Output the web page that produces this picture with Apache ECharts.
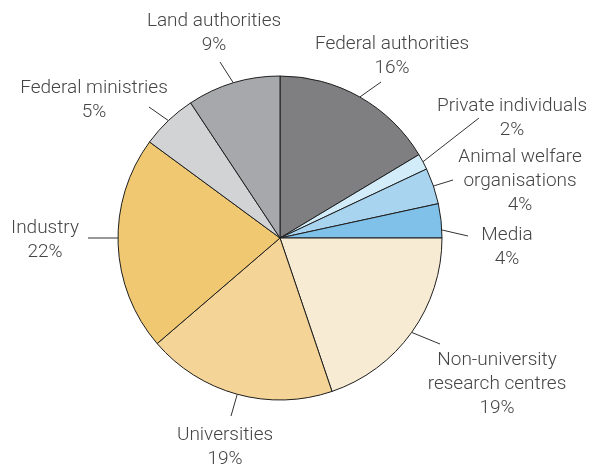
<!DOCTYPE html>
<html>
<head>
<meta charset="utf-8">
<script src="https://cdn.jsdelivr.net/npm/echarts@6/dist/echarts.min.js"></script>
<style>
  html, body { margin: 0; padding: 0; background: #ffffff; }
  #chart { width: 592px; height: 465px; }
</style>
</head>
<body>
<div id="chart"></div>
<script>
// Categories in clockwise order starting at 12 o'clock
const categories = [
  'Federal authorities',
  'Private individuals',
  'Animal welfare\norganisations',
  'Media',
  'Non-university\nresearch centres',
  'Universities',
  'Industry',
  'Federal ministries',
  'Land authorities'
];
// Slice sizes as drawn (measured from the slice angles, in %)
const sliceValues = [16.4, 1.6, 3.6, 3.4, 19.8, 18.9, 21.4, 5.6, 9.3];
// Percentages printed on the labels
const printedPercents = [16, 2, 4, 4, 19, 19, 22, 5, 9];

const colors = ['#7f7f82', '#d3ecf9', '#a9d4f0', '#80c1ea', '#f7ebd3', '#f5d597', '#f0c871', '#d2d3d5', '#a7a8ab'];

// Label placement (styling only): label block centre, label-line end point,
// and optional label-line start override
const labelPlace = [
  { cx: 392, cy: 56,  ex: 381, ey: 82 },
  { cx: 512, cy: 118, ex: 479, ey: 118 },
  { cx: 520, cy: 181, ex: 453, ey: 180 },
  { cx: 507, cy: 247, ex: 468, ey: 236, sx: 442, sy: 230 },
  { cx: 497, cy: 384, ex: 440, ey: 344 },
  { cx: 225, cy: 447, ex: 231, ey: 416 },
  { cx: 45,  cy: 240, ex: 88,  ey: 238, sx: 118, sy: 238 },
  { cx: 94,  cy: 100, ex: 149, ey: 107 },
  { cx: 214, cy: 33,  ex: 220, ey: 62 }
];

const chart = echarts.init(document.getElementById('chart'), null, { renderer: 'canvas' });

const data = categories.map((name, i) => ({
  name: name,
  value: sliceValues[i],
  itemStyle: { color: colors[i] }
}));

chart.setOption({
  animation: false,
  series: [{
    type: 'pie',
    center: [280, 238],
    radius: 162,
    startAngle: 90,
    clockwise: true,
    avoidLabelOverlap: false,
    itemStyle: { borderColor: '#1e1e1e', borderWidth: 1 },
    emphasis: { disabled: true },
    label: {
      show: true,
      position: 'outside',
      formatter: (p) => p.name + '\n' + printedPercents[p.dataIndex] + '%',
      fontFamily: 'Roboto, "Liberation Sans", Arial, sans-serif',
      fontWeight: 300,
      fontSize: 19,
      lineHeight: 24,
      color: '#454545',
      align: 'center'
    },
    labelLine: {
      show: true,
      length: 15,
      length2: 0,
      smooth: false,
      lineStyle: { color: '#333333', width: 1 }
    },
    labelLayout: function (params) {
      const lp = labelPlace[params.dataIndex];
      const start = params.labelLinePoints && params.labelLinePoints[0];
      const out = {
        x: lp.cx,
        y: lp.cy,
        align: 'center',
        verticalAlign: 'middle'
      };
      if (lp.sx !== undefined) {
        out.labelLinePoints = [[lp.sx, lp.sy], [lp.ex, lp.ey]];
      } else if (start) {
        out.labelLinePoints = [[start[0], start[1]], [lp.ex, lp.ey]];
      }
      return out;
    },
    data: data
  }]
});
</script>
</body>
</html>
